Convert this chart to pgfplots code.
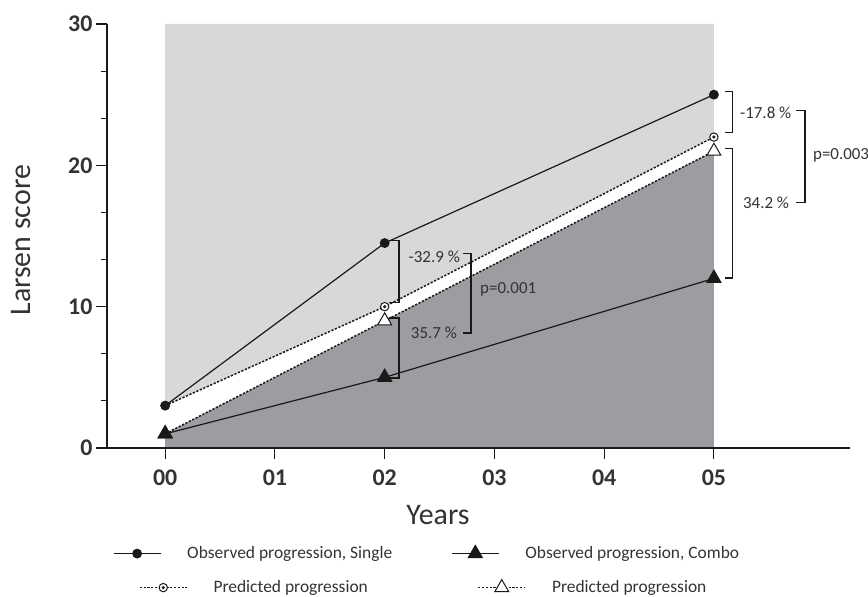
\documentclass[border=0pt]{standalone}
\usepackage{pgfplots}
\pgfplotsset{compat=1.18}
\usepackage{fontspec}
\setmainfont{Carlito}
\definecolor{lg}{RGB}{216,216,219}
\definecolor{dg}{RGB}{156,157,161}
\definecolor{txt}{RGB}{51,51,51}
\definecolor{ln}{RGB}{25,25,25}
\pgfdeclareplotmark{odot}{%
  \pgfpathcircle{\pgfpointorigin}{\pgfplotmarksize}\pgfusepathqfillstroke
  \pgfpathcircle{\pgfpointorigin}{0.25\pgfplotmarksize}\pgfusepathqstroke}
\pgfplotsset{
  myleg/.style={legend image code/.code={\draw[mark repeat=2,mark phase=2] plot coordinates {(0bp,0bp)(23.5bp,0bp)(47bp,0bp)};}},
  legbox/.style={legend columns=2, legend cell align=left,
    legend style={at={#1}, anchor=west, draw=none, fill=none, inner sep=0pt, outer sep=0pt,
      font=\fontsize{17.5}{20}\selectfont, text=txt, nodes={inner sep=0pt},
      /tikz/every odd column/.append style={column sep=26bp},
      /tikz/every even column/.append style={column sep=0bp}}},
  obsS/.style={ln, line width=1.2bp, solid, mark=*, mark size=4.3bp},
  obsC/.style={ln, line width=1.2bp, solid, mark=triangle*, mark size=8bp},
  preS/.style={ln, line width=1.5bp, dash pattern=on 2.2bp off 1.6bp, mark=odot, mark size=4.2bp, mark options={solid, fill=white, line width=1bp}},
  preC/.style={ln, line width=1.5bp, dash pattern=on 2.2bp off 1.6bp, mark=triangle*, mark size=8bp, mark options={solid, fill=white, line width=1bp}},
}
\begin{document}
\begin{tikzpicture}
\begin{axis}[name=main, scale only axis, width=743bp, height=424bp,
  xmin=-0.53, xmax=6.24, ymin=0, ymax=30, clip=false,
  axis x line*=bottom, axis y line*=left, axis on top,
  axis line style={ln, line width=1.1bp},
  xtick={0,1,2,3,4,5}, xticklabels={00,01,02,03,04,05},
  ytick={0,10,20,30}, minor y tick num=2,
  tick align=outside, major tick length=11bp, minor tick length=6bp,
  every tick/.style={ln, line width=1.1bp},
  ticklabel style={font=\fontsize{24}{24}\selectfont\bfseries, text=txt},
  xticklabel style={yshift=-7bp},
  /pgf/number format/assume math mode=true,
  xlabel={Years}, ylabel={Larsen score},
  label style={font=\fontsize{30}{30}\selectfont, text=txt},
  xlabel style={at={(axis description cs:0.4455,-0.158)}, anchor=center},
  ylabel style={at={(axis description cs:-0.1157,0.49)}, anchor=center},
  myleg, legbox={(axis description cs:0.0081,-0.2476)}]
\addplot[draw=none, fill=lg, forget plot] coordinates {(0,3)(2,10)(5,22)(5,30)(0,30)} -- cycle;
\addplot[draw=none, fill=dg, forget plot] coordinates {(0,0)(0,1)(2,9)(5,21)(5,0)} -- cycle;
\addplot[preS, forget plot] coordinates {(0,3)(2,10)(5,22)};
\addplot[preC, forget plot] coordinates {(0,1)(2,9)(5,21)};
\addplot[obsS] coordinates {(0,3)(2,14.5)(5,25)};
\addlegendentry{\makebox[264bp][l]{Observed progression, Single}}
\addplot[obsC] coordinates {(0,1)(2,5)(5,12)};
\addlegendentry{Observed progression, Combo}
% brackets
\draw[ln, line width=1.1bp] (axis cs:2.04,14.7) -| (axis cs:2.131,10.3) -- (axis cs:2.04,10.3);
\draw[ln, line width=1.1bp] (axis cs:2.04,9.2) -| (axis cs:2.131,4.95) -- (axis cs:2.04,4.95);
\draw[ln, line width=1.1bp] (axis cs:2.714,13.73) -| (axis cs:2.787,8.14) -- (axis cs:2.714,8.14);
\draw[ln, line width=1.1bp] (axis cs:5.1,25.2) -| (axis cs:5.173,22.3) -- (axis cs:5.1,22.3);
\draw[ln, line width=1.1bp] (axis cs:5.1,21.2) -| (axis cs:5.173,12.03) -- (axis cs:5.1,12.03);
\draw[ln, line width=1.1bp] (axis cs:5.75,23.85) -| (axis cs:5.83,17.4) -- (axis cs:5.75,17.4);
\begin{scope}[every node/.style={font=\fontsize{17}{19}\selectfont, text=txt, inner sep=0pt}]
\node[anchor=east] at (axis cs:2.687,13.52) {-32.9 \%};
\node[anchor=east] at (axis cs:2.66,8.14) {35.7 \%};
\node[anchor=west] at (axis cs:2.869,11.25) {p=0.001};
\node[anchor=west] at (axis cs:5.237,23.7) {-17.8 \%};
\node[anchor=west] at (axis cs:5.264,17.34) {34.2 \%};
\node[anchor=west] at (axis cs:5.902,20.67) {p=0.003};
\end{scope}
\end{axis}
\begin{axis}[scale only axis, width=743bp, height=424bp, hide axis,
  xmin=0, xmax=1, ymin=0, ymax=1,
  myleg, legbox={(axis description cs:0.0431,-0.3278)}]
\addlegendimage{preS}
\addlegendentry{\makebox[264bp][l]{Predicted progression}}
\addlegendimage{preC}
\addlegendentry{Predicted progression}
\end{axis}
\pgfresetboundingbox
\path (main.south west) ++(-107bp,-149bp) rectangle ++(868bp,597bp);
\end{tikzpicture}
\end{document}
